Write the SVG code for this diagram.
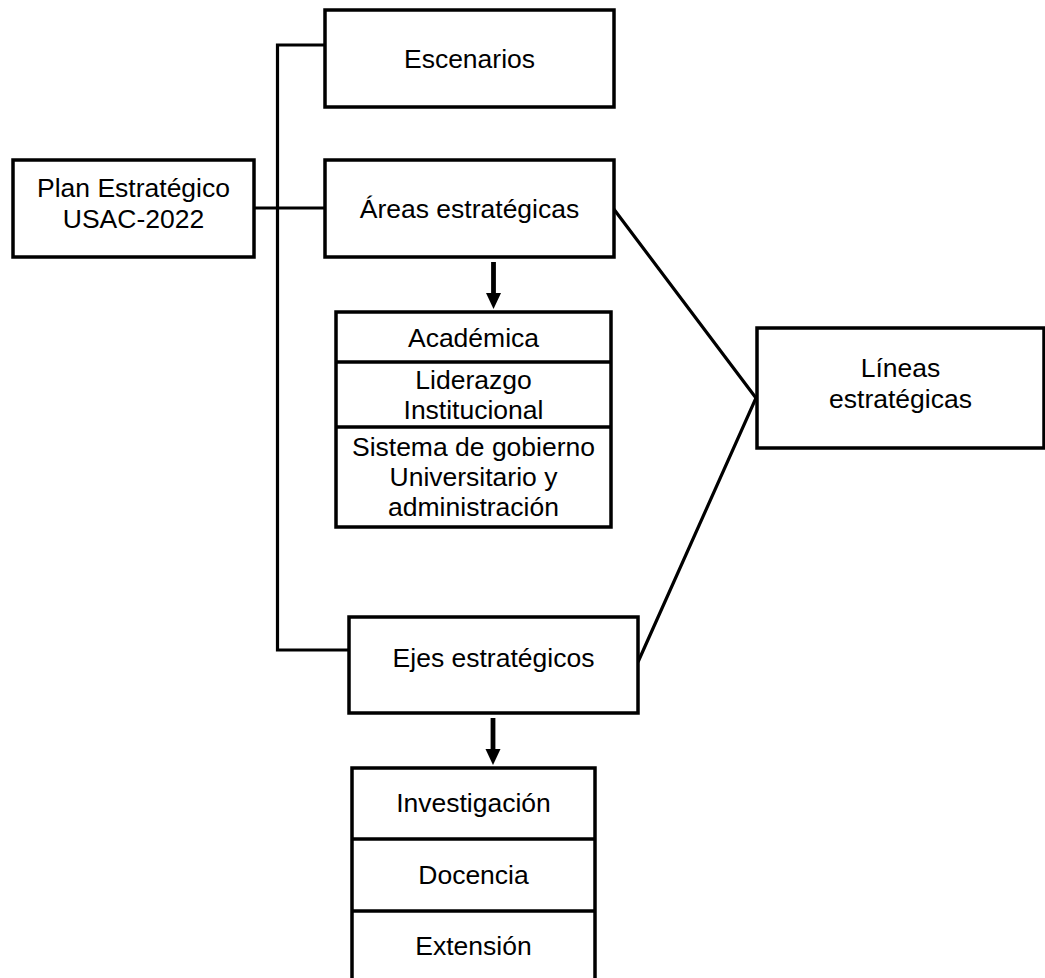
<svg xmlns="http://www.w3.org/2000/svg" width="1045" height="978" viewBox="0 0 1045 978">
  <style>
    .box { fill: #ffffff; stroke: #000000; stroke-width: 3.5; }
    .div { stroke: #000000; stroke-width: 3.5; }
    .link { fill: none; stroke: #000000; stroke-width: 3.2; }
    .arrow { fill: none; stroke: #000000; stroke-width: 4.8; }
    .head { fill: #000000; }
    text { font-family: "Liberation Sans", Arial, sans-serif; font-size: 26.5px; fill: #000000; text-anchor: middle; }
  </style>
  <rect width="1045" height="978" fill="#ffffff"/>

  <!-- connectors -->
  <g id="connectors">
    <polyline class="link" points="325,45 277.5,45 277.5,650 349,650"/>
    <line class="link" x1="254" y1="208" x2="325" y2="208"/>
    <polyline class="link" points="613,208 756,398 638,662"/>
    <line class="arrow" x1="493.5" y1="262" x2="493.5" y2="296"/>
    <polygon class="head" points="486,293 501,293 493.5,309"/>
    <line class="arrow" x1="493" y1="718" x2="493" y2="752"/>
    <polygon class="head" points="485.5,749 500.5,749 493,765"/>
  </g>

  <g id="plan">
    <rect class="box" x="13" y="160" width="241" height="97"/>
    <text x="133.5" y="197">Plan Estratégico</text>
    <text x="133.5" y="228">USAC-2022</text>
  </g>

  <g id="escenarios">
    <rect class="box" x="325" y="10" width="289" height="97"/>
    <text x="469.5" y="68">Escenarios</text>
  </g>

  <g id="areas">
    <rect class="box" x="325" y="160" width="289" height="97"/>
    <text x="469.5" y="218">Áreas estratégicas</text>
  </g>

  <g id="areas-list">
    <rect class="box" x="336" y="312" width="275" height="215"/>
    <line class="div" x1="336" y1="362" x2="611" y2="362"/>
    <line class="div" x1="336" y1="427" x2="611" y2="427"/>
    <text x="473.5" y="347">Académica</text>
    <text x="473.5" y="389">Liderazgo</text>
    <text x="473.5" y="419">Institucional</text>
    <text x="473.5" y="455.5">Sistema de gobierno</text>
    <text x="473.5" y="485.5">Universitario y</text>
    <text x="473.5" y="515.5">administración</text>
  </g>

  <g id="lineas">
    <rect class="box" x="757" y="328" width="287" height="120"/>
    <text x="900.5" y="377">Líneas</text>
    <text x="900.5" y="408">estratégicas</text>
  </g>

  <g id="ejes">
    <rect class="box" x="349" y="617" width="289" height="96"/>
    <text x="493.5" y="667">Ejes estratégicos</text>
  </g>

  <g id="ejes-list">
    <rect class="box" x="352" y="768" width="243" height="220"/>
    <line class="div" x1="352" y1="839" x2="595" y2="839"/>
    <line class="div" x1="352" y1="911" x2="595" y2="911"/>
    <text x="473.5" y="812">Investigación</text>
    <text x="473.5" y="884">Docencia</text>
    <text x="473.5" y="955">Extensión</text>
  </g>
</svg>
